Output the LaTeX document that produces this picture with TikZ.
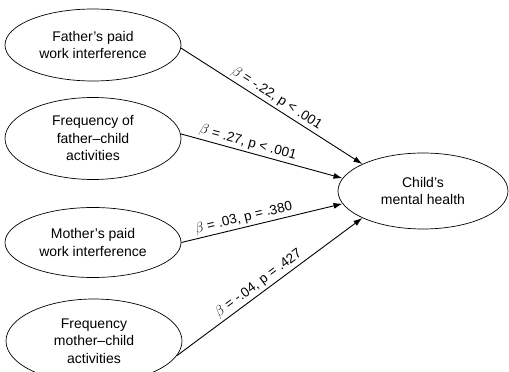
\documentclass[tikz,border=0pt]{standalone}
\usepackage{fontspec}
\setmainfont{Liberation Sans}
\usetikzlibrary{shapes.geometric,arrows.meta}

\tikzset{every picture/.style={line width=0.75pt}}
\tikzset{
  factor/.style={draw, ellipse, line width=0.7pt, minimum width=176pt, minimum height=72pt,
    inner sep=0pt, align=center, font=\fontsize{14}{17.5}\selectfont},
  effect/.style={line width=0.9pt, -{Latex[length=9pt,width=6pt]}},
  coef/.style={sloped, above, inner sep=2.5pt, font=\fontsize{13.5}{16}\selectfont}
}

\begin{document}
\begin{tikzpicture}[x=1pt,y=1pt]
\useasboundingbox (0,0) rectangle (509,372);

%Shape: Ellipse [father paid work]
\node[factor] (fpaid) at (93,327) {Father's paid\\work interference};
%Shape: Ellipse [father child activities]
\node[factor, minimum height=82pt] (fact) at (93,233.5) {Frequency of\\father--child\\activities};
%Shape: Ellipse [mother paid work]
\node[factor, minimum height=70pt] (mpaid) at (93,129.5) {Mother's paid\\work interference};
%Shape: Ellipse [mother child activities]
\node[factor, minimum height=84pt] (mact) at (94,31) {Frequency\\mother--child\\activities};
%Shape: Ellipse [outcome]
\node[factor, minimum width=170pt, minimum height=76pt] (health) at (423,181) {Child's\\mental health};

%Straight Lines [paths with coefficients]
\draw[effect] (fpaid.-2) -- (health.156) node[coef, pos=0.5] {$\beta$ = -.22, p < .001};
\draw[effect] (fact.3) -- (health.171) node[coef, pos=0.4] {$\beta$ = .27, p < .001};
\draw[effect] (mpaid.0) -- (health.189) node[coef, pos=0.4] {$\beta$ = .03, p = .380};
\draw[effect] (mact.-10) -- (health.204) node[coef, pos=0.47] {$\beta$ = -.04, p = .427};

\end{tikzpicture}
\end{document}
